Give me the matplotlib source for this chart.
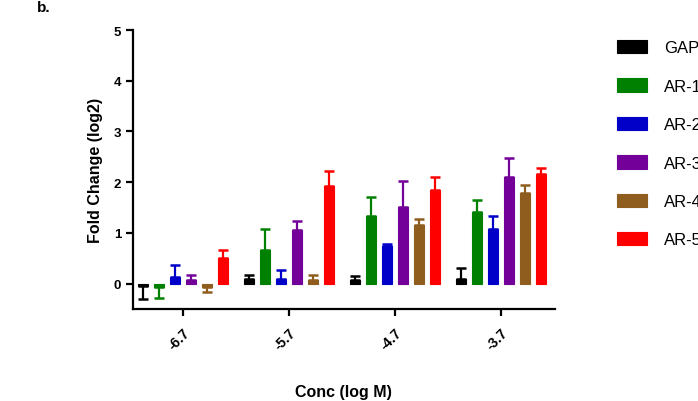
import matplotlib
matplotlib.use("Agg")
import matplotlib.pyplot as plt
import numpy as np

plt.rcParams['font.family'] = ['Liberation Sans', 'DejaVu Sans']

concs = ["-6.7", "-5.7", "-4.7", "-3.7"]
series = ["GAPDH", "AR-1", "AR-2", "AR-3", "AR-4", "AR-5"]
colors = ["#000000", "#008000", "#0000C8", "#730099", "#8F5E1E", "#FF0000"]

gapdh = [-0.05, 0.10, 0.08, 0.09]
ar1 = [-0.06, 0.67, 1.33, 1.42]
ar2 = [0.14, 0.10, 0.74, 1.07]
ar3 = [0.07, 1.05, 1.51, 2.11]
ar4 = [-0.07, 0.08, 1.15, 1.78]
ar5 = [0.51, 1.92, 1.84, 2.17]

gapdh_err = [0.25, 0.08, 0.08, 0.21]
ar1_err = [0.23, 0.40, 0.38, 0.22]
ar2_err = [0.22, 0.16, 0.04, 0.27]
ar3_err = [0.11, 0.19, 0.52, 0.37]
ar4_err = [0.10, 0.10, 0.13, 0.17]
ar5_err = [0.16, 0.31, 0.27, 0.10]

means = [gapdh, ar1, ar2, ar3, ar4, ar5]
errs = [gapdh_err, ar1_err, ar2_err, ar3_err, ar4_err, ar5_err]

fig = plt.figure(figsize=(6.98, 4.02), dpi=100)
ax = fig.add_axes([133/698, 1-310/402, (555-133)/698, (310-31)/402])

x = np.arange(len(concs))
step = 0.151
width = 0.094
handles = []
for j, (m, e, c) in enumerate(zip(means, errs, colors)):
    m = np.array(m)
    e = np.array(e)
    pos = x + (j - 2.5) * step
    h = ax.bar(pos, m, width=width, color=c, edgecolor=c, linewidth=0.8, zorder=2)
    lower = np.where(m < 0, e, 0)
    upper = np.where(m >= 0, e, 0)
    ax.errorbar(pos, m, yerr=[lower, upper], fmt='none', ecolor=c,
                elinewidth=1.6, capsize=3.4, capthick=1.8, zorder=3)
    handles.append(h)

ax.set_xlim(-0.47, 3.51)
ax.set_ylim(-0.5, 5)
ax.set_yticks([0, 1, 2, 3, 4, 5])
ax.set_xticks(x)
ax.set_xticklabels(concs, rotation=45, ha='right', va='top',
                   rotation_mode='anchor', fontweight='bold', fontsize=10)
for lab in ax.get_yticklabels():
    lab.set_fontweight('bold')
    lab.set_fontsize(9.5)

for s in ['top', 'right']:
    ax.spines[s].set_visible(False)
for s in ['left', 'bottom']:
    ax.spines[s].set_linewidth(1.6)
ax.tick_params(axis='both', width=1.6, length=5, direction='out')
ax.tick_params(axis='x', pad=7)

ax.set_ylabel("Fold Change (log2)", fontweight='bold', fontsize=11.5, labelpad=8)
ax.set_xlabel("Conc (log M)", fontweight='bold', fontsize=11.5, va='center')
ax.xaxis.set_label_coords((343-133)/422, (310-392)/279)

fig.text(37/698, 1-8/402, "b.", fontweight='bold', fontsize=11, va='center', ha='left')

leg = fig.legend(handles, series, loc='upper left',
                 bbox_to_anchor=(617/698, 1-41/402), frameon=False,
                 fontsize=12, handlelength=1.8, handleheight=0.85,
                 handletextpad=1.0, labelspacing=1.38, borderpad=0,
                 borderaxespad=0)

fig.savefig("out.png", dpi=100)
